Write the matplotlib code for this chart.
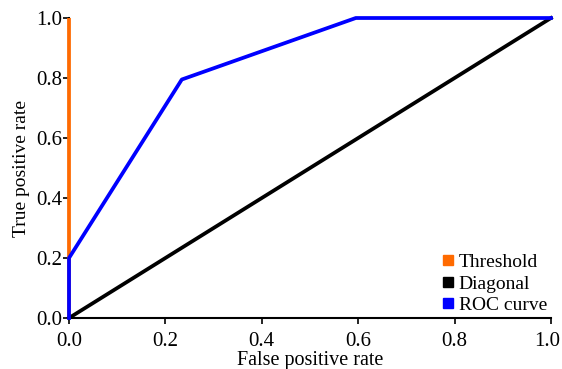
import matplotlib
matplotlib.use("Agg")
import matplotlib.pyplot as plt
from matplotlib.lines import Line2D
from matplotlib.transforms import ScaledTranslation

# ROC data
fpr = [0.0, 0.0, 0.234, 0.595, 1.0]
tpr = [0.0, 0.2, 0.795, 1.0, 1.0]
thr_x = [0.0, 0.0]
thr_y = [0.0, 1.0]
diag = [0.0, 1.0]
ticks = [0.0, 0.2, 0.4, 0.6, 0.8, 1.0]
tick_labels = ["0.0", "0.2", "0.4", "0.6", "0.8", "1.0"]
legend_names = ["Threshold", "Diagonal", "ROC curve"]
colors = ["#ff6a00", "#000000", "#0000ff"]

plt.rcParams['font.family'] = ['Liberation Serif', 'DejaVu Serif']
plt.rcParams['font.size'] = 14.5

fig = plt.figure(figsize=(5.62, 3.69), dpi=100)
ax = fig.add_axes([0.1228, 0.1382, 0.8576, 0.813])

ax.plot(thr_x, thr_y, color=colors[0], lw=2.7, solid_capstyle="butt", zorder=3, clip_on=False)
ax.plot(diag, diag, color=colors[1], lw=2.7, zorder=3, clip_on=False)
ax.plot(fpr, tpr, color=colors[2], lw=2.7, zorder=4, clip_on=False)

ax.set_xlim(0, 1)
ax.set_ylim(0, 1)
ax.set_xticks(ticks)
ax.set_xticklabels(tick_labels)
ax.set_yticks(ticks)
ax.set_yticklabels(tick_labels)
ax.tick_params(direction="out", length=4, width=1.2, labelsize=15)
ax.tick_params(axis="y", pad=1)
ax.tick_params(axis="x", pad=6)
for side in ("top", "right"):
    ax.spines[side].set_visible(False)
for side in ("left", "bottom"):
    ax.spines[side].set_linewidth(1.5)

# keep the last x label inside the figure
last = ax.get_xticklabels()[-1]
last.set_ha("right")
last.set_transform(last.get_transform() + ScaledTranslation(0.09, 0, fig.dpi_scale_trans))

ax.set_xlabel("False positive rate", labelpad=0)
ax.set_ylabel("True positive rate", labelpad=4, fontsize=14)

handles = [Line2D([], [], marker="s", ls="none", color=c, markersize=7) for c in colors]
ax.legend(handles, legend_names, loc="lower right", frameon=False,
          handletextpad=0.15, handlelength=0.8, labelspacing=0.2,
          borderaxespad=0.0, borderpad=0.2, fontsize=14,
          bbox_to_anchor=(1.0, 0.0))

fig.savefig("out.png", dpi=100)
